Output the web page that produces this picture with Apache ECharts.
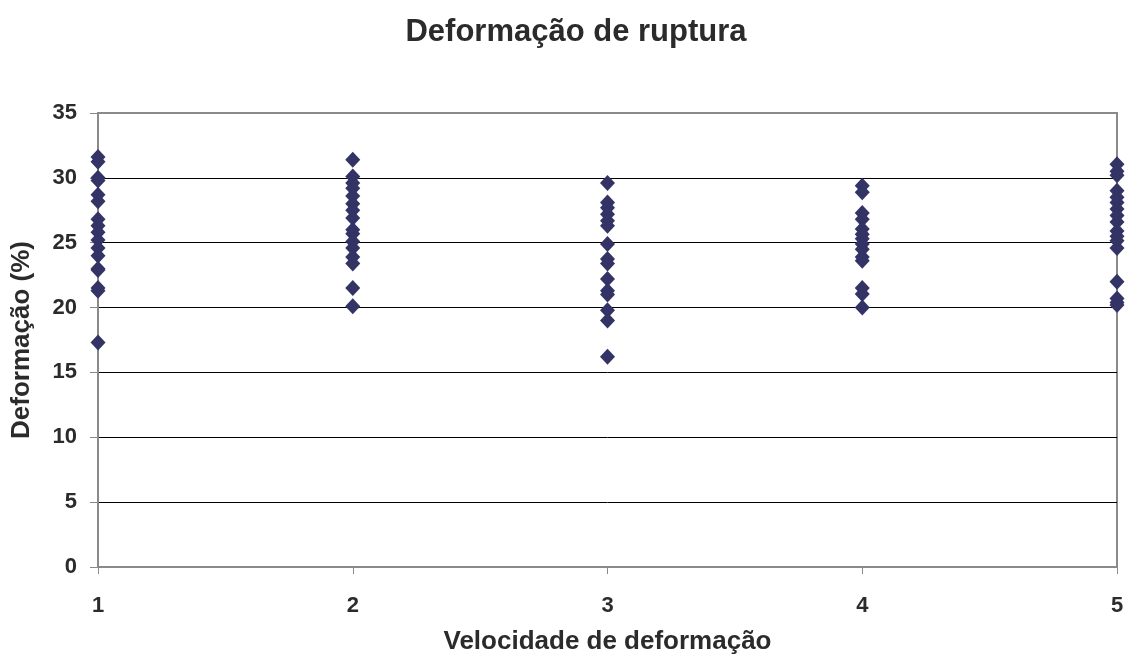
<!DOCTYPE html>
<html><head><meta charset="utf-8">
<script src="https://cdn.jsdelivr.net/npm/echarts@6/dist/echarts.min.js"></script>
<style>html,body{margin:0;padding:0;background:#fff}#c{width:1129px;height:660px}</style>
</head><body><div id="c"></div>
<script>
const title = "Deformação de ruptura";
const xName = "Velocidade de deformação";
const yName = "Deformação (%)";
const velocity1 = [31.6, 31.25, 30.0, 29.8, 28.7, 28.2, 26.8, 26.3, 25.8, 25.2, 24.6, 24.0, 23.0, 22.9, 21.5, 21.3, 17.3];
const velocity2 = [31.4, 30.1, 29.6, 29.2, 28.6, 28.0, 27.5, 26.9, 26.0, 25.7, 25.1, 24.6, 23.9, 23.4, 21.5, 20.1];
const velocity3 = [29.6, 28.1, 27.7, 27.2, 26.7, 26.3, 24.9, 23.75, 23.4, 22.2, 21.3, 21.0, 19.8, 19.0, 16.2];
const velocity4 = [29.4, 28.9, 27.3, 26.8, 26.05, 25.65, 25.3, 24.9, 24.5, 23.9, 23.6, 21.5, 21.05, 20.0];
const velocity5 = [31.05, 30.5, 30.2, 29.0, 28.5, 28.1, 27.6, 27.1, 26.6, 25.9, 25.5, 25.15, 24.6, 22.0, 20.7, 20.4, 20.2];
const groups = [velocity1, velocity2, velocity3, velocity4, velocity5];
const pts = [];
groups.forEach((g, i) => g.forEach(v => pts.push([i + 1, v])));
const font = "'Liberation Sans', Arial, sans-serif";
const txt = '#2b2b2b';
const chart = echarts.init(document.getElementById('c'));
chart.setOption({
  animation: false,
  backgroundColor: '#fff',
  title: { text: title, left: 571, top: 12, textAlign: 'center',
    textStyle: { fontFamily: font, fontSize: 31, fontWeight: 'bold', color: txt } },
  grid: { left: 98, right: 12, top: 113, bottom: 93, show: true, borderColor: '#8a8a8a', borderWidth: 2, backgroundColor: '#fff' },
  xAxis: { type: 'value', min: 1, max: 5, interval: 1,
    name: xName, nameLocation: 'middle', nameGap: 62,
    nameTextStyle: { fontFamily: font, fontSize: 26, fontWeight: 'bold', color: txt },
    axisLine: { show: true, lineStyle: { color: '#8a8a8a', width: 2 } },
    axisTick: { show: true, inside: false, length: 7, lineStyle: { color: '#8a8a8a' } },
    axisLabel: { fontFamily: font, fontSize: 22, fontWeight: 'bold', color: txt, margin: 28 },
    splitLine: { show: false } },
  yAxis: { type: 'value', min: 0, max: 35, interval: 5,
    name: yName, nameLocation: 'middle', nameGap: 63, nameRotate: 90,
    nameTextStyle: { fontFamily: font, fontSize: 26, fontWeight: 'bold', color: txt },
    axisLine: { show: true, lineStyle: { color: '#8a8a8a', width: 2 } },
    axisTick: { show: true, length: 8, lineStyle: { color: '#8a8a8a' } },
    axisLabel: { fontFamily: font, fontSize: 22, fontWeight: 'bold', color: txt, margin: 21 },
    splitLine: { show: true, showMinLine: false, showMaxLine: false, lineStyle: { color: '#000', width: 1 } } },
  series: [{ type: 'scatter', data: pts, symbol: 'diamond', symbolSize: [15, 16],
    itemStyle: { color: '#333366', opacity: 1 }, clip: false }]
});
</script></body></html>
